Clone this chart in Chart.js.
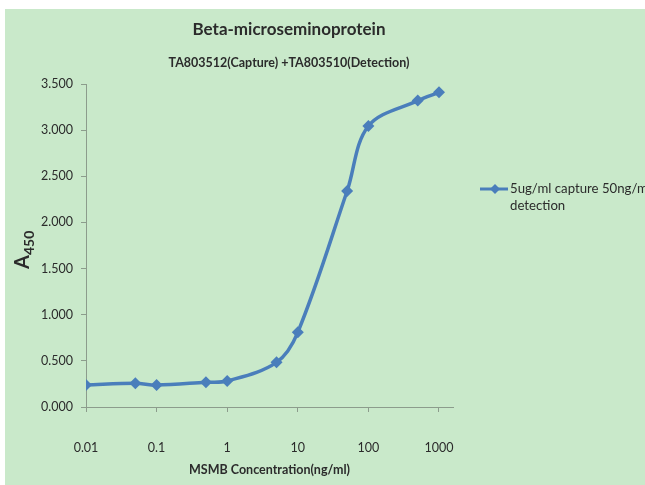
<!DOCTYPE html>
<html>
<head>
<meta charset="utf-8">
<script src="https://cdn.jsdelivr.net/npm/chart.js@4.4.1/dist/chart.umd.min.js"></script>
<style>
  html, body { margin: 0; padding: 0; background: #fff; }
  #wrap { position: relative; width: 645px; height: 485px; }
</style>
</head>
<body>
<div id="wrap"><canvas id="elisaChart"></canvas></div>
<script>
// 농도(ng/ml) 와 A450 흡광도 값 – 그림에서 읽은 값
const concentrations = [0.01, 0.05, 0.1, 0.5, 1, 5, 10, 50, 100, 500, 1000];
const absorbance     = [0.238, 0.257, 0.238, 0.268, 0.282, 0.484, 0.809, 2.34, 3.045, 3.32, 3.41];

const xTickValues = [0.01, 0.1, 1, 10, 100, 1000];
const xTickLabels = ['0.01', '0.1', '1', '10', '100', '1000'];
const yTickLabels = ['0.000', '0.500', '1.000', '1.500', '2.000', '2.500', '3.000', '3.500'];

const chartTitle    = 'Beta-microseminoprotein';
const chartSubtitle = 'TA803512(Capture) +TA803510(Detection)';
const xAxisTitle    = 'MSMB Concentration(ng/ml)';
const seriesLabel   = ['5ug/ml capture 50ng/ml', 'detection'];

const LINE_BLUE  = '#4a7ebb';
const AXIS_GREY  = '#8c9c8c';
const TEXT_DARK  = '#2b2b2b';
const BG_GREEN   = '#c9e9ca';

Chart.defaults.font.family = 'Lato, "Open Sans", sans-serif';

/**
 * 배경, 제목, y축 제목(A450 아래첨자), 오른쪽 범례를 캔버스에 직접 그림
 */
const decorPlugin = {
    id: 'decor',
    beforeDraw(chart) {
        const { ctx, width, height } = chart;
        ctx.save();
        ctx.fillStyle = '#fff';
        ctx.fillRect(0, 0, width, height);
        ctx.fillStyle = BG_GREEN;
        ctx.fillRect(5, 9, width - 5, height - 9);
        ctx.restore();
    },
    afterDraw(chart) {
        const { ctx } = chart;
        ctx.save();
        ctx.fillStyle = TEXT_DARK;
        ctx.textAlign = 'center';
        ctx.textBaseline = 'middle';

        // 제목
        ctx.font = 'bold 17px Lato';
        ctx.fillText(chartTitle, 289, 30);
        ctx.font = 'bold 12.5px Lato';
        ctx.fillText(chartSubtitle, 289, 63);

        // y축 제목 A + 450(아래첨자)
        ctx.translate(22, 255);
        ctx.rotate(-Math.PI / 2);
        ctx.textAlign = 'left';
        ctx.textBaseline = 'alphabetic';
        ctx.font = 'bold 20px Lato';
        const aW = ctx.measureText('A').width;
        ctx.fillText('A', -aW, 7);
        ctx.font = 'bold 14px Lato';
        ctx.fillText('450', 0, 12);
        ctx.setTransform(1, 0, 0, 1, 0, 0);

        // 범례
        const ly = 189;
        ctx.strokeStyle = LINE_BLUE;
        ctx.lineWidth = 3;
        ctx.beginPath();
        ctx.moveTo(480, ly);
        ctx.lineTo(508, ly);
        ctx.stroke();
        ctx.fillStyle = LINE_BLUE;
        ctx.beginPath();
        ctx.moveTo(495, ly - 5);
        ctx.lineTo(500, ly);
        ctx.lineTo(495, ly + 5);
        ctx.lineTo(490, ly);
        ctx.closePath();
        ctx.fill();

        ctx.fillStyle = TEXT_DARK;
        ctx.font = '13.2px Lato';
        ctx.textAlign = 'left';
        ctx.textBaseline = 'middle';
        seriesLabel.forEach((t, i) => ctx.fillText(t, 510, ly + i * 17));
        ctx.restore();
    }
};

new Chart(document.getElementById('elisaChart').getContext('2d'), {
    type: 'line',
    data: {
        datasets: [{
            label: seriesLabel.join(' '),
            data: concentrations.map((c, i) => ({ x: c, y: absorbance[i] })),
            borderColor: LINE_BLUE,
            backgroundColor: LINE_BLUE,
            borderWidth: 3.5,
            tension: 0.35,
            pointStyle: 'rectRot',
            pointRadius: 6,
            pointBorderWidth: 0,
            pointBackgroundColor: LINE_BLUE,
            fill: false,
        }]
    },
    options: {
        responsive: true,
        maintainAspectRatio: false,
        animation: false,
        layout: { padding: { top: 84, right: 192, bottom: 0, left: 0 } },
        plugins: {
            legend: { display: false },
            tooltip: { enabled: false },
        },
        scales: {
            x: {
                type: 'logarithmic',
                min: 0.01,
                max: 1580,
                afterBuildTicks: s => { s.ticks = xTickValues.map(v => ({ value: v })); },
                afterFit: s => { s.height = 78; },
                ticks: {
                    callback: (v, i) => xTickLabels[i],
                    autoSkip: false,
                    maxRotation: 0,
                    padding: 28,
                    color: TEXT_DARK,
                    font: { size: 12.5 },
                },
                grid: { drawOnChartArea: false, tickLength: 5, color: AXIS_GREY },
                border: { color: AXIS_GREY, width: 1 },
                title: {
                    display: true,
                    text: xAxisTitle,
                    color: TEXT_DARK,
                    font: { size: 12.5, weight: 'bold' },
                    padding: { top: 0, bottom: 8 },
                },
            },
            y: {
                min: 0,
                max: 3.5,
                afterFit: s => { s.width = 86; },
                ticks: {
                    stepSize: 0.5,
                    callback: (v, i) => yTickLabels[i],
                    padding: 8,
                    color: TEXT_DARK,
                    font: { size: 12.5 },
                },
                grid: { drawOnChartArea: false, tickLength: 5, color: AXIS_GREY },
                border: { color: AXIS_GREY, width: 1 },
            }
        }
    },
    plugins: [decorPlugin]
});
</script>
</body>
</html>
